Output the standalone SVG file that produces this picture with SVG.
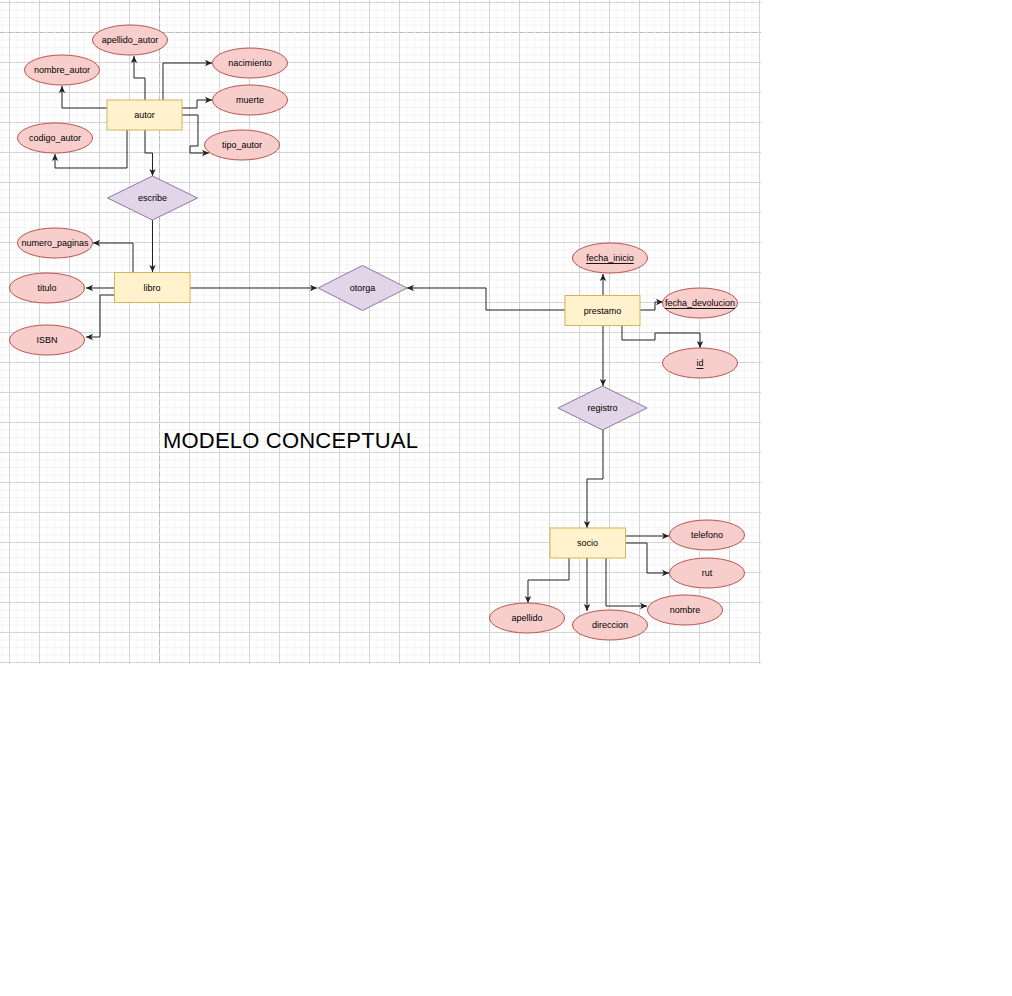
<svg xmlns="http://www.w3.org/2000/svg" width="1012" height="996" viewBox="0 0 1012 996">
<style>
.ent{fill:#fff2cc;stroke:#d6b656;stroke-width:1}
.rel{fill:#e1d5e7;stroke:#9673a6;stroke-width:1}
.att{fill:#f8cecc;stroke:#b85450;stroke-width:1}
.lbl{font-family:"Liberation Sans",Arial,sans-serif;font-size:9px;fill:#000;text-anchor:middle;dominant-baseline:central}
.u{text-decoration:underline}
.con path{fill:none;stroke:#222;stroke-width:1}
</style>
<defs>
<pattern id="grid30" x="9" y="2" width="30" height="30" patternUnits="userSpaceOnUse">
<path d="M8,0 V30 M15.5,0 V30 M23,0 V30 M0,8 H30 M0,15.5 H30 M0,23 H30" stroke="#f3f3f3" stroke-width="1" fill="none"/>
<path d="M0.5,0 V30 M0,0.5 H30" stroke="#d4d4d4" stroke-width="1" fill="none"/>
</pattern>
<marker id="arr" markerUnits="userSpaceOnUse" markerWidth="8" markerHeight="8" viewBox="0 0 8 8" refX="7" refY="4" orient="auto">
<path d="M0,0.8 L7,4 L0,7.2 L1.8,4 z" fill="#222"/>
</marker>
</defs>
<rect width="1012" height="996" fill="#fff"/>
<g id="grid">
<rect x="0" y="0" width="761" height="664" fill="url(#grid30)"/>
<path d="M0,32.5 H761 M159.5,0 V664" stroke="#bdbdbd" stroke-width="1" stroke-dasharray="5,3" fill="none"/>
</g>
<g class="con" id="connectors">
<path d="M145,100 V78 H134 V56" marker-end="url(#arr)"/>
<path d="M107,108 H62 V86" marker-end="url(#arr)"/>
<path d="M163,100 V63 H212" marker-end="url(#arr)"/>
<path d="M182,108 H197 V100 H212" marker-end="url(#arr)"/>
<path d="M182,115 H198 V146 H190 V153 H209" marker-end="url(#arr)"/>
<path d="M127,130 V168 H55 V154" marker-end="url(#arr)"/>
<path d="M145,130 V153 H152.5 V176" marker-end="url(#arr)"/>
<path d="M152.5,220 V272" marker-end="url(#arr)"/>
<path d="M133,272 V243 H93" marker-end="url(#arr)"/>
<path d="M114,288 H86" marker-end="url(#arr)"/>
<path d="M114,295 H100 V337 H86" marker-end="url(#arr)"/>
<path d="M190,288 H317" marker-end="url(#arr)"/>
<path d="M565,310 H486 V288 H407" marker-end="url(#arr)"/>
<path d="M603,296 V274" marker-end="url(#arr)"/>
<path d="M640,310 H655 V302 H663" marker-end="url(#arr)"/>
<path d="M622,326 V340 H655 V333 H700 V348" marker-end="url(#arr)"/>
<path d="M603,326 V386" marker-end="url(#arr)"/>
<path d="M603,430 V479 H587 V528" marker-end="url(#arr)"/>
<path d="M626,536 H669" marker-end="url(#arr)"/>
<path d="M626,543 H647 V573 H669" marker-end="url(#arr)"/>
<path d="M606,558 V606 H647" marker-end="url(#arr)"/>
<path d="M587,558 V611" marker-end="url(#arr)"/>
<path d="M569,558 V580 H528 V603" marker-end="url(#arr)"/>
</g>
<g id="autor"><rect class="ent" x="107" y="100" width="75" height="30"/><text class="lbl" x="144.5" y="115">autor</text></g>
<g id="escribe"><polygon class="rel" points="152.5,176 197.5,198 152.5,220 107.5,198"/><text class="lbl" x="152.5" y="198">escribe</text></g>
<g id="libro"><rect class="ent" x="114.5" y="272.5" width="75.5" height="30"/><text class="lbl" x="152" y="288">libro</text></g>
<g id="otorga"><polygon class="rel" points="362.5,265.5 407,288 362.5,310.5 318,288"/><text class="lbl" x="362.5" y="288">otorga</text></g>
<g id="prestamo"><rect class="ent" x="565" y="295.5" width="75" height="30"/><text class="lbl" x="602.5" y="310.5">prestamo</text></g>
<g id="registro"><polygon class="rel" points="602.5,386 647,408 602.5,430 558,408"/><text class="lbl" x="602.5" y="408">registro</text></g>
<g id="socio"><rect class="ent" x="550" y="528" width="75.5" height="30"/><text class="lbl" x="587.5" y="543">socio</text></g>
<g id="apellido_autor"><ellipse class="att" cx="130" cy="40" rx="37.5" ry="15"/><text class="lbl" x="130" y="40">apellido_autor</text></g>
<g id="nombre_autor"><ellipse class="att" cx="62" cy="70" rx="37.5" ry="15"/><text class="lbl" x="62" y="70">nombre_autor</text></g>
<g id="codigo_autor"><ellipse class="att" cx="55" cy="138" rx="37.5" ry="15"/><text class="lbl" x="55" y="138">codigo_autor</text></g>
<g id="nacimiento"><ellipse class="att" cx="250" cy="63" rx="37.5" ry="15"/><text class="lbl" x="250" y="63">nacimiento</text></g>
<g id="muerte"><ellipse class="att" cx="250" cy="100" rx="37.5" ry="15"/><text class="lbl" x="250" y="100">muerte</text></g>
<g id="tipo_autor"><ellipse class="att" cx="242" cy="145" rx="37.5" ry="15"/><text class="lbl" x="242" y="145">tipo_autor</text></g>
<g id="numero_paginas"><ellipse class="att" cx="55" cy="243" rx="37.5" ry="15"/><text class="lbl" x="55" y="243">numero_paginas</text></g>
<g id="titulo"><ellipse class="att" cx="47" cy="288" rx="37.5" ry="15"/><text class="lbl" x="47" y="288">titulo</text></g>
<g id="ISBN"><ellipse class="att" cx="47" cy="340" rx="37.5" ry="15"/><text class="lbl" x="47" y="340">ISBN</text></g>
<g id="fecha_inicio"><ellipse class="att" cx="610" cy="258" rx="37.5" ry="15"/><text class="lbl u" x="610" y="258">fecha_inicio</text></g>
<g id="fecha_devolucion"><ellipse class="att" cx="700" cy="303" rx="37.5" ry="15"/><text class="lbl u" x="700" y="303">fecha_devolucion</text></g>
<g id="id"><ellipse class="att" cx="700" cy="363" rx="37.5" ry="15"/><text class="lbl u" x="700" y="363">id</text></g>
<g id="telefono"><ellipse class="att" cx="707" cy="535" rx="37.5" ry="15"/><text class="lbl" x="707" y="535">telefono</text></g>
<g id="rut"><ellipse class="att" cx="707" cy="573" rx="37.5" ry="15"/><text class="lbl" x="707" y="573">rut</text></g>
<g id="nombre"><ellipse class="att" cx="685" cy="610" rx="37.5" ry="15"/><text class="lbl" x="685" y="610">nombre</text></g>
<g id="apellido"><ellipse class="att" cx="527" cy="618" rx="37.5" ry="15"/><text class="lbl" x="527" y="618">apellido</text></g>
<g id="direccion"><ellipse class="att" cx="610" cy="625" rx="37.5" ry="15"/><text class="lbl" x="610" y="625">direccion</text></g>
<g id="title"><text x="163" y="448" font-family="Liberation Sans,Arial,sans-serif" font-size="22" fill="#000" textLength="255">MODELO CONCEPTUAL</text></g>
</svg>
